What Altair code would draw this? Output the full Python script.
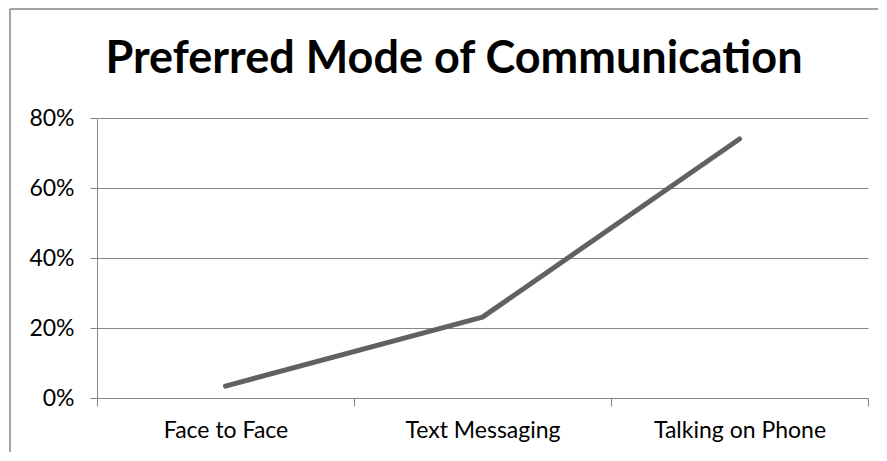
import json
import altair as alt
import pandas as pd

title_text = "Preferred Mode of Communication"
categories = ["Face to Face", "Text Messaging", "Talking on Phone"]
values = [0.034, 0.231, 0.74]
y_ticks = [0, 0.2, 0.4, 0.6, 0.8]

df = pd.DataFrame({
    "cat": categories,
    "pos": [i + 0.5 for i in range(len(categories))],
    "val": values,
})
title_df = pd.DataFrame({"t": [title_text]})

W, H = 771, 280
GRAY = "#868686"
FONT = "Lato"

label_expr = (
    "datum.value % 1 === 0 ? '' : "
    + json.dumps(categories).replace('"', "'")
    + "[floor(datum.value)]"
)

line = alt.Chart(df).mark_line(
    color="#616161", strokeWidth=5, strokeCap="round", strokeJoin="round"
).encode(
    x=alt.X(
        "pos:Q",
        scale=alt.Scale(domain=[0, len(categories)], nice=False, zero=False),
        axis=alt.Axis(
            title=None,
            values=[i * 0.5 for i in range(2 * len(categories) + 1)],
            labelExpr=label_expr,
            grid=False,
            domainColor=GRAY,
            tickColor=GRAY,
            tickSize=8,
            tickOpacity={"condition": {"test": "datum.value % 1 !== 0", "value": 0}, "value": 1},
            labelFont=FONT,
            labelFontSize=23,
            labelColor="black",
            labelPadding=13,
            labelOverlap=False,
            labelFlush=False,
        ),
    ),
    y=alt.Y(
        "val:Q",
        scale=alt.Scale(domain=[0, 0.8], nice=False),
        axis=alt.Axis(
            title=None,
            values=y_ticks,
            format=".0%",
            grid=True,
            gridColor=GRAY,
            domainColor=GRAY,
            tickColor=GRAY,
            tickSize=7,
            labelFont=FONT,
            labelFontSize=23,
            labelColor="black",
            labelPadding=16,
        ),
    ),
)

title = alt.Chart(title_df).mark_text(
    font=FONT, fontSize=45, fontWeight="bold", color="black",
    align="center", baseline="alphabetic",
).encode(text="t:N", x=alt.value(357), y=alt.value(-45))

border_left = alt.Chart(title_df).mark_rule(color=GRAY, strokeWidth=1.5).encode(
    x=alt.value(-87), y=alt.value(-109), y2=alt.value(H + 54)
)
border_top = alt.Chart(title_df).mark_rule(color=GRAY, strokeWidth=1.5).encode(
    x=alt.value(-87), x2=alt.value(W + 10), y=alt.value(-109)
)

chart = alt.layer(border_left, border_top, title, line).properties(
    width=W,
    height=H,
    padding={"left": 1, "top": 0, "right": 0, "bottom": 0},
).configure_view(stroke=None)

chart.save("out.html", embed_options={"renderer": "svg", "actions": False})
